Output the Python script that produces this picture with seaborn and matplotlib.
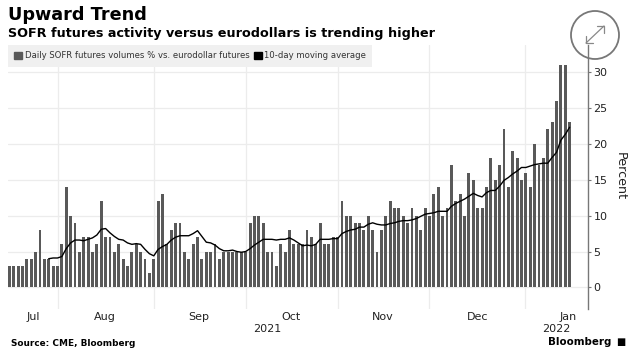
import numpy as np
import pandas as pd
import matplotlib.pyplot as plt
from matplotlib.lines import Line2D
from matplotlib.patches import Circle, Patch
import seaborn as sns

# values, one bar per trading day
volumes = [
    3, 3, 3, 3, 4, 4, 5, 8, 4, 4, 3, 3, 6, 14, 10, 9, 5, 7, 7, 5, 6, 12, 7, 7, 5, 6, 4, 3, 5, 6, 5, 4, 2, 4, 12,
    13, 6, 8, 9, 9, 5, 4, 6, 7, 4, 5, 5, 6, 4, 5, 5, 5, 5, 5, 5, 9, 10, 10, 9, 5, 5, 3, 6, 5, 8, 6, 6, 6, 8,
    7, 6, 9, 6, 6, 7, 7, 12, 10, 10, 9, 9, 8, 10, 8, 5, 8, 10, 12, 11, 11, 10, 9, 11, 10, 8, 11, 10, 13, 14, 10, 11,
    17, 12, 13, 10, 16, 15, 11, 11, 14, 18, 15, 17, 22, 14, 19, 18, 15, 16, 14, 20, 17, 18, 22, 23, 26, 31, 31, 23,
]
# the average only starts on the 10th bar
moving_avg = [
    4.0, 4.1, 4.1, 4.3, 5.4, 6.2, 6.6, 6.6, 6.5, 6.7, 6.9, 7.3, 8.1, 8.2, 7.6, 7.1, 6.7, 6.6, 6.2, 6.0, 6.1, 6.0, 5.3, 4.7, 4.4, 5.3,
    5.7, 6.0, 6.6, 7.0, 7.2, 7.2, 7.2, 7.5, 7.9, 7.1, 6.3, 6.2, 5.9, 5.4, 5.1, 5.1, 5.2, 5.0, 4.9, 5.0, 5.4, 5.9, 6.3, 6.7, 6.7, 6.7, 6.6, 6.7, 6.7, 6.9, 6.6, 6.2, 5.8, 5.9,
    5.8, 6.0, 6.7, 6.7, 6.7, 6.8, 6.8, 7.5, 7.8, 8.0, 8.1, 8.4, 8.4, 8.8, 9.0, 8.8, 8.7, 8.7, 8.9, 9.0, 9.2, 9.3, 9.3, 9.4, 9.6, 9.9, 10.2, 10.3, 10.4, 10.6, 10.6, 10.6,
    11.3, 11.7, 12.0, 12.3, 12.7, 13.1, 12.8, 12.6, 13.2, 13.5, 13.5, 14.1, 14.9, 15.3, 15.8, 16.2, 16.7, 16.7, 16.9, 17.1, 17.2, 17.3, 17.3, 18.1, 18.8, 20.5, 21.3, 22.3,
]
month_labels = ["Jul", "Aug", "Sep", "Oct", "Nov", "Dec", "Jan"]
month_centers = [5.4, 21.9, 43.3, 64.3, 85.3, 107.0, 127.6]
month_edges = [11.1, 33.05, 54.1, 75.0, 95.9, 117.9]
y_ticks = [0, 5, 10, 15, 20, 25, 30]

BAR_C = "#595959"
GRID_C = "#ececec"
W, H = 631, 361

df = pd.DataFrame({"day": np.arange(len(volumes)), "volume": volumes})
df["avg"] = [np.nan] * 9 + moving_avg

sns.set_theme(style="white")
plt.rcParams["font.family"] = ["DejaVu Sans"]

fig = plt.figure(figsize=(W / 100, H / 100), dpi=100)
ax = fig.add_axes([8 / W, 1 - 309 / H, 580 / W, 264 / H])

sns.barplot(data=df, x="day", y="volume", color=BAR_C, saturation=1, width=0.66, linewidth=0, ax=ax, zorder=3)
sns.lineplot(data=df.dropna(), x="day", y="avg", color="black", linewidth=1.0, ax=ax, zorder=4)

# 坐标范围
ax.set_xlim(-0.3, 132.2)
ax.set_ylim(-3, 33.75)
ax.set_xlabel("")
ax.set_ylabel("")

ax.yaxis.tick_right()
ax.set_yticks(y_ticks)
ax.set_xticks(month_centers)
ax.set_xticklabels(month_labels)
ax.tick_params(axis="x", length=0, pad=2.2, labelsize=8, colors="#222222")
ax.tick_params(axis="y", length=2.5, width=0.8, pad=1.5, labelsize=8, color="#777777", labelcolor="#222222", right=True)
for y in y_ticks:
    ax.axhline(y, color=GRID_C, linewidth=0.9, zorder=0)
for x in month_edges:
    ax.axvline(x, color=GRID_C, linewidth=0.9, zorder=0)

for side in ["top", "left", "bottom"]:
    ax.spines[side].set_visible(False)
ax.spines["right"].set_color("#777777")
ax.spines["right"].set_linewidth(1.0)

# 标题和文字
fig.text(8 / W, 1 - 15 / H, "Upward Trend", fontsize=12.7, fontweight="bold", color="black", va="center")
fig.text(8 / W, 1 - 33 / H, "SOFR futures activity versus eurodollars is trending higher", fontsize=9.2,
         fontweight="bold", color="black", va="center")
fig.text(11 / W, 1 - 343 / H, "Source: CME, Bloomberg", fontsize=6.4, fontweight="bold", color="black", va="center")
fig.text(267 / W, 1 - 329 / H, "2021", fontsize=8, color="#222222", ha="center", va="center")
fig.text(556 / W, 1 - 329 / H, "2022", fontsize=8, color="#222222", ha="center", va="center")
fig.text(620 / W, 1 - 176 / H, "Percent", fontsize=9.2, color="#222222", rotation=270, ha="center", va="center")
fig.text(611 / W, 1 - 342 / H, "Bloomberg", fontsize=7.4, fontweight="bold", color="black", ha="right", va="center")
fig.text(621 / W, 1 - 342 / H, "\u25a0", fontsize=7, color="black", ha="center", va="center")

handles = [
    Patch(color=BAR_C, label="Daily SOFR futures volumes % vs. eurodollar futures"),
    Patch(color="black", label="10-day moving average"),
]
fig.legend(handles=handles, ncol=2, loc="upper left", bbox_to_anchor=(8 / W, 1 - 45 / H), borderaxespad=0,
           fontsize=6.1, frameon=True, fancybox=False, facecolor="#f0f0f0", edgecolor="none", framealpha=1,
           handlelength=0.9, handleheight=0.9, handletextpad=0.3, columnspacing=0.55, borderpad=0.75,
           labelcolor="#333333")

# 右上角的放大图标
px = fig.add_axes([0, 0, 1, 1], facecolor="none")
px.set_xlim(0, W)
px.set_ylim(H, 0)
px.axis("off")
px.add_patch(Circle((595, 35), 24, fill=False, edgecolor="#777777", linewidth=1.3))
px.add_artist(Line2D([586, 604], [43, 26], color="#888888", linewidth=0.9))
px.add_artist(Line2D([597, 604, 604], [26, 26, 33], color="#888888", linewidth=0.9))
px.add_artist(Line2D([586, 586, 593], [36, 43, 43], color="#888888", linewidth=0.9))

fig.savefig("out.png", dpi=100)
